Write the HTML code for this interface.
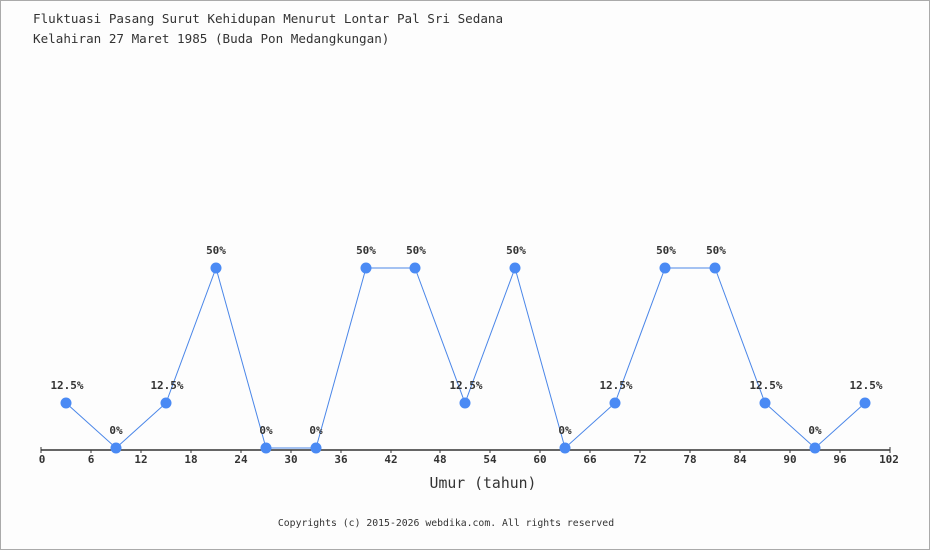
<!DOCTYPE html>
<html><head><meta charset="utf-8"><style>
html,body{margin:0;padding:0;background:#fff;}
svg{display:block;}
</style></head><body>
<svg width="930" height="550" viewBox="0 0 930 550" xmlns="http://www.w3.org/2000/svg">
<rect x="0.5" y="0.5" width="929" height="549" fill="#fdfdfd" stroke="#aaaaaa" stroke-width="1"/>
<g font-family="'DejaVu Sans Mono','Liberation Mono',monospace" fill="#333">
<text x="33" y="23" font-size="12.6">Fluktuasi Pasang Surut Kehidupan Menurut Lontar Pal Sri Sedana</text>
<text x="33" y="43" font-size="12.6">Kelahiran 27 Maret 1985 (Buda Pon Medangkungan)</text>
</g>
<line x1="41" y1="450" x2="890" y2="450" stroke="#333" stroke-width="1.5"/>
<g stroke="#333" stroke-width="1">
<line x1="41" y1="447" x2="41" y2="453"/><line x1="91" y1="450" x2="91" y2="453"/><line x1="141" y1="450" x2="141" y2="453"/><line x1="191" y1="450" x2="191" y2="453"/><line x1="241" y1="450" x2="241" y2="453"/><line x1="291" y1="450" x2="291" y2="453"/><line x1="341" y1="450" x2="341" y2="453"/><line x1="391" y1="450" x2="391" y2="453"/><line x1="440" y1="450" x2="440" y2="453"/><line x1="490" y1="450" x2="490" y2="453"/><line x1="540" y1="450" x2="540" y2="453"/><line x1="590" y1="450" x2="590" y2="453"/><line x1="640" y1="450" x2="640" y2="453"/><line x1="690" y1="450" x2="690" y2="453"/><line x1="740" y1="450" x2="740" y2="453"/><line x1="790" y1="450" x2="790" y2="453"/><line x1="840" y1="450" x2="840" y2="453"/><line x1="890" y1="447" x2="890" y2="453"/>
</g>
<g font-family="'DejaVu Sans Mono','Liberation Mono',monospace" font-size="11" font-weight="bold" fill="#333" text-anchor="middle">
<text x="42" y="463">0</text><text x="91" y="463">6</text><text x="141" y="463">12</text><text x="191" y="463">18</text><text x="241" y="463">24</text><text x="291" y="463">30</text><text x="341" y="463">36</text><text x="391" y="463">42</text><text x="440" y="463">48</text><text x="490" y="463">54</text><text x="540" y="463">60</text><text x="590" y="463">66</text><text x="640" y="463">72</text><text x="690" y="463">78</text><text x="740" y="463">84</text><text x="790" y="463">90</text><text x="840" y="463">96</text><text x="889" y="463">102</text>
</g>
<text x="483" y="488" font-family="'DejaVu Sans Mono','Liberation Mono',monospace" font-size="14.8" fill="#333" text-anchor="middle">Umur (tahun)</text>
<text x="446" y="526" font-family="'DejaVu Sans Mono','Liberation Mono',monospace" font-size="9.8" fill="#333" text-anchor="middle">Copyrights (c) 2015-2026 webdika.com. All rights reserved</text>
<polyline fill="none" stroke="#4a86e8" stroke-width="1" points="66,403 116,448 166,403 216,268 266,448 316,448 366,268 415,268 465,403 515,268 565,448 615,403 665,268 715,268 765,403 815,448 865,403"/>
<g fill="#4a8af4">
<circle cx="66" cy="403" r="5.5"/><circle cx="116" cy="448" r="5.5"/><circle cx="166" cy="403" r="5.5"/><circle cx="216" cy="268" r="5.5"/><circle cx="266" cy="448" r="5.5"/><circle cx="316" cy="448" r="5.5"/><circle cx="366" cy="268" r="5.5"/><circle cx="415" cy="268" r="5.5"/><circle cx="465" cy="403" r="5.5"/><circle cx="515" cy="268" r="5.5"/><circle cx="565" cy="448" r="5.5"/><circle cx="615" cy="403" r="5.5"/><circle cx="665" cy="268" r="5.5"/><circle cx="715" cy="268" r="5.5"/><circle cx="765" cy="403" r="5.5"/><circle cx="815" cy="448" r="5.5"/><circle cx="865" cy="403" r="5.5"/>
</g>
<g font-family="'DejaVu Sans Mono','Liberation Mono',monospace" font-size="11" font-weight="bold" fill="#333" text-anchor="middle">
<text x="67" y="389">12.5%</text><text x="116" y="434">0%</text><text x="167" y="389">12.5%</text><text x="216" y="254">50%</text><text x="266" y="434">0%</text><text x="316" y="434">0%</text><text x="366" y="254">50%</text><text x="416" y="254">50%</text><text x="466" y="389">12.5%</text><text x="516" y="254">50%</text><text x="565" y="434">0%</text><text x="616" y="389">12.5%</text><text x="666" y="254">50%</text><text x="716" y="254">50%</text><text x="766" y="389">12.5%</text><text x="815" y="434">0%</text><text x="866" y="389">12.5%</text>
</g>
</svg>
</body></html>
